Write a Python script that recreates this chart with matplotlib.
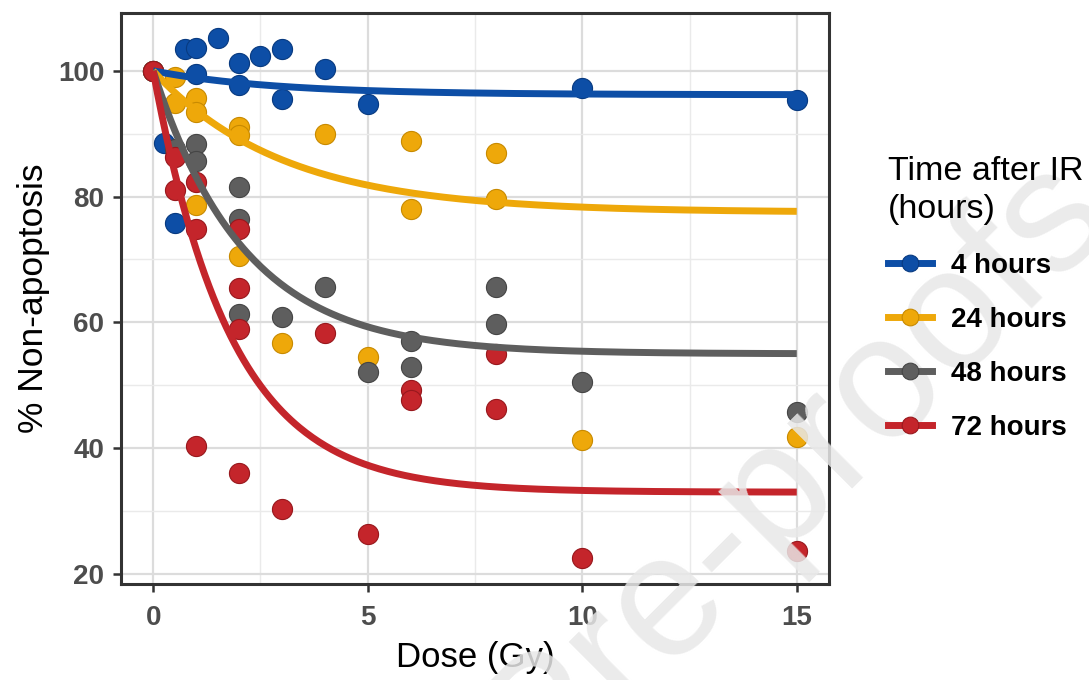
import numpy as np
import matplotlib
matplotlib.use("Agg")
import matplotlib.pyplot as plt
from matplotlib.lines import Line2D

plt.rcParams['font.family'] = ['Liberation Sans', 'DejaVu Sans']

# ---------------- data ----------------
groups = ["4 hours", "24 hours", "48 hours", "72 hours"]
colors = ["#0D4EA6", "#EEA80A", "#5E5E5E", "#C4252B"]
edge_colors = ["#083A80", "#C88A00", "#454545", "#98181D"]

dose_4h = [0, 0.25, 0.5, 0.75, 1, 1, 1.5, 2, 2, 2.5, 3, 3, 4, 5, 10, 15]
surv_4h = [100, 88.6, 75.8, 103.4, 103.7, 99.5, 105.3, 101.2, 97.7, 102.4,
           103.4, 95.5, 100.3, 94.7, 97.3, 95.3]

dose_24h = [0, 0.5, 0.5, 1, 1, 1, 2, 2, 2, 3, 4, 5, 6, 6, 8, 8, 10, 15]
surv_24h = [100, 99.0, 94.9, 95.7, 93.5, 78.7, 91.0, 89.8, 70.6, 56.8,
            89.9, 54.5, 88.9, 78.1, 86.9, 79.6, 41.3, 41.7]

dose_48h = [0, 0.5, 1, 1, 2, 2, 2, 3, 4, 5, 6, 6, 8, 8, 10, 15]
surv_48h = [100, 87.5, 88.3, 85.6, 81.6, 76.4, 61.3, 60.9, 65.6, 52.1,
            57.0, 52.9, 65.7, 59.8, 50.5, 45.7]

dose_72h = [0, 0.5, 0.5, 1, 1, 1, 2, 2, 2, 2, 3, 4, 5, 6, 6, 8, 8, 10, 15]
surv_72h = [100, 86.3, 81.1, 82.4, 74.8, 40.4, 74.8, 65.5, 58.9, 36.0,
            30.3, 58.3, 26.4, 49.2, 47.6, 55.0, 46.2, 22.6, 23.7]

# fitted one-phase decay curves (parameters)
curve_top = [100, 100, 100, 100]
curve_plateau = [96.2, 77.5, 55.0, 33.0]
curve_rate = [0.35, 0.33, 0.47, 0.55]

x_ticks = [0, 5, 10, 15]
y_ticks = [20, 40, 60, 80, 100]

doses = [dose_4h, dose_24h, dose_48h, dose_72h]
survs = [surv_4h, surv_24h, surv_48h, surv_72h]

# ---------------- figure ----------------
fig = plt.figure(figsize=(10.89, 6.80), dpi=100)
ax = fig.add_axes([0.1111, 0.1412, 0.6501, 0.8397])

ax.set_xlim(-0.75, 15.75)
ax.set_ylim(18.4, 109.2)

# grid (ggplot theme_bw style)
ax.set_xticks(x_ticks)
ax.set_yticks(y_ticks)
ax.set_xticks([2.5, 7.5, 12.5], minor=True)
ax.set_yticks([30, 50, 70, 90], minor=True)
ax.grid(which='major', color='#DCDCDC', linewidth=1.6, zorder=0)
ax.grid(which='minor', color='#EAEAEA', linewidth=1.0, zorder=0)
ax.set_axisbelow(True)

for sp in ax.spines.values():
    sp.set_color('#333333')
    sp.set_linewidth(2.2)

ax.tick_params(which='major', length=6, width=1.8, color='#333333',
               labelsize=20, labelcolor='#4D4D4D')
ax.tick_params(axis='x', which='major', pad=9)
ax.tick_params(axis='y', which='major', pad=6)
ax.tick_params(which='minor', length=0)
for lab in ax.get_xticklabels() + ax.get_yticklabels():
    lab.set_fontweight('bold')

# points
for d, s, c, ec in zip(doses, survs, colors, edge_colors):
    ax.scatter(d, s, s=210, color=c, edgecolor=ec, linewidth=0.8, zorder=3)

# fitted lines
xx = np.linspace(0, 15, 300)
for top, pl, k, c in zip(curve_top, curve_plateau, curve_rate, colors):
    yy = pl + (top - pl) * np.exp(-k * xx)
    ax.plot(xx, yy, color=c, linewidth=5, solid_capstyle='butt', zorder=4)

ax.set_xlabel("Dose (Gy)", fontsize=25, labelpad=7)
ax.set_ylabel("% Non-apoptosis", fontsize=25.5, labelpad=6)

# legend
handles = [Line2D([], [], color=c, linewidth=5, marker='o', markersize=12,
                  markeredgecolor=ec, markeredgewidth=0.8)
           for c, ec in zip(colors, edge_colors)]
leg = fig.legend(handles, groups, title="Time after IR\n(hours)",
                 loc='upper left', bbox_to_anchor=(0.815, 0.771),
                 frameon=False, fontsize=20, title_fontsize=24.5,
                 handlelength=1.6, handletextpad=0.7, labelspacing=1.0,
                 alignment='left', borderaxespad=0, borderpad=0)
leg.get_title().set_linespacing(1.32)
leg.set_zorder(5)
for t in leg.get_texts():
    t.set_fontweight('bold')

# faint journal watermark (runs off the page edges as in the source)
fig.text(1.0257, 0.6706, "Journal Pre-proofs", fontsize=125, color='#E8E8E8',
         alpha=0.85, rotation=45, rotation_mode='anchor', ha='right',
         va='baseline', zorder=1)

fig.savefig("out.png", dpi=100)
